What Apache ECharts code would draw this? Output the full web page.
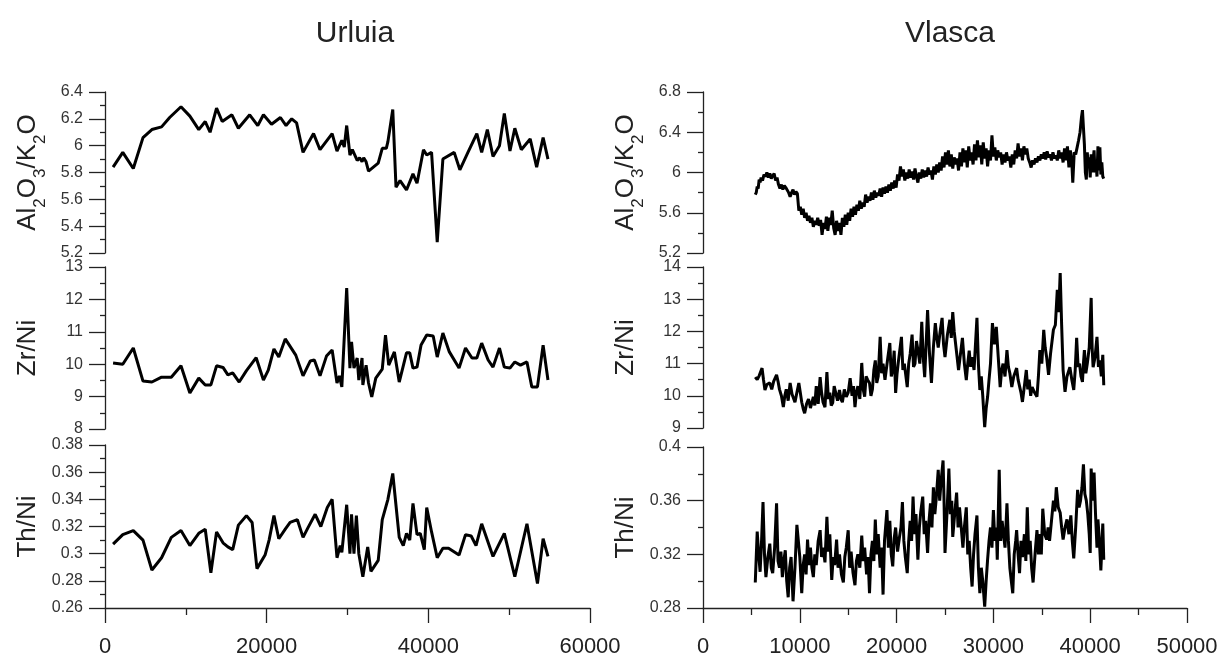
<!DOCTYPE html>
<html><head><meta charset="utf-8">
<script src="https://cdn.jsdelivr.net/npm/echarts@6/dist/echarts.min.js"></script>
<style>html,body{margin:0;padding:0;background:#fff}#c{width:1231px;height:662px}</style>
</head><body><div id="c"></div>
<script>
// ---------- data ----------
const titles = ['Urluia', 'Vlasca'];
const urluiaAlK = [[1000,5.84],[2200,5.95],[3500,5.83],[4700,6.06],[5800,6.12],[7000,6.14],[8000,6.21],[9400,6.29],[10500,6.22],[11600,6.12],[12400,6.18],[13000,6.10],[13800,6.28],[14500,6.18],[15700,6.23],[16500,6.13],[17900,6.23],[18900,6.15],[19600,6.23],[20600,6.16],[21700,6.21],[22400,6.15],[23100,6.20],[23700,6.17],[24500,5.95],[25800,6.09],[26600,5.97],[28100,6.09],[28700,5.96],[29300,6.04],[29600,5.99],[29900,6.15],[30300,5.93],[30600,5.97],[31200,5.89],[31500,5.91],[31800,5.88],[32000,5.91],[32300,5.88],[32600,5.81],[33800,5.87],[34300,5.98],[34800,5.98],[35000,6.03],[35600,6.27],[36000,5.69],[36500,5.74],[37300,5.67],[38100,5.79],[38600,5.72],[39400,5.97],[39800,5.93],[40400,5.95],[41100,5.28],[41800,5.90],[43200,5.95],[43900,5.82],[44900,5.95],[46000,6.09],[46600,5.95],[47300,6.12],[48000,5.92],[48800,6.00],[49400,6.24],[50100,5.96],[50700,6.13],[51500,5.97],[52600,6.05],[53400,5.84],[54200,6.06],[54800,5.90]];
const urluiaZrNi = [[1000,10.04],[2200,10.0],[3500,10.5],[4700,9.48],[5800,9.45],[7000,9.6],[8200,9.6],[9400,9.95],[10500,9.11],[11600,9.57],[12400,9.36],[13100,9.36],[13800,9.95],[14600,9.9],[15200,9.67],[15800,9.73],[16600,9.45],[17500,9.8],[18700,10.2],[19600,9.51],[20200,9.82],[20900,10.47],[21500,10.22],[22300,10.78],[23600,10.28],[24500,9.64],[25400,10.1],[25900,10.13],[26600,9.64],[27400,10.25],[28100,10.44],[28700,9.42],[29000,9.64],[29300,9.3],[29900,12.35],[30300,9.88],[30500,10.69],[30800,9.88],[31200,10.19],[31400,9.51],[31800,10.19],[31900,9.36],[32300,9.97],[32600,9.42],[33000,8.99],[33500,9.57],[34300,9.85],[34700,10.9],[35100,9.97],[35800,10.38],[36400,9.45],[37300,10.35],[37700,10.35],[38100,9.88],[38600,9.91],[39100,10.59],[39800,10.9],[40600,10.87],[41100,10.22],[41800,10.96],[42600,10.38],[43800,9.88],[44600,10.5],[45400,10.19],[46000,10.19],[46600,10.65],[47400,10.13],[48000,9.91],[48800,10.5],[49400,9.91],[50100,9.88],[50700,10.07],[51400,9.97],[52200,10.07],[52800,9.3],[53500,9.3],[54200,10.59],[54800,9.51]];
const urluiaThNi = [[1000,0.307],[2200,0.314],[3500,0.317],[4700,0.310],[5800,0.288],[7000,0.297],[8200,0.312],[9400,0.317],[10500,0.306],[11600,0.315],[12400,0.318],[13100,0.286],[13800,0.316],[14600,0.308],[15200,0.305],[15800,0.303],[16500,0.321],[17500,0.328],[18200,0.323],[18800,0.289],[19800,0.299],[20300,0.310],[20900,0.328],[21500,0.311],[22300,0.318],[22900,0.323],[23800,0.325],[24500,0.312],[25100,0.319],[26000,0.329],[26700,0.320],[27500,0.334],[28100,0.340],[28700,0.297],[29100,0.306],[29300,0.301],[29900,0.336],[30300,0.300],[30500,0.329],[30800,0.300],[31100,0.328],[31400,0.300],[31900,0.283],[32500,0.305],[32900,0.287],[33800,0.295],[34300,0.325],[35000,0.340],[35600,0.359],[36400,0.312],[36900,0.306],[37300,0.315],[37700,0.310],[38100,0.337],[38600,0.314],[39000,0.315],[39500,0.303],[39800,0.334],[40400,0.316],[41100,0.297],[41800,0.304],[42500,0.304],[43800,0.299],[44600,0.314],[45300,0.313],[45900,0.306],[46600,0.322],[48000,0.298],[49400,0.315],[50700,0.283],[52200,0.322],[53500,0.278],[54200,0.311],[54800,0.298]];
const vlascaAlK = [[5400,5.78],[5500,5.80],[5600,5.86],[5700,5.84],[5800,5.93],[5900,5.90],[6000,5.95],[6150,5.92],[6300,5.98],[6450,5.96],[6600,6.00],[6750,5.95],[6900,5.99],[7050,5.94],[7200,5.97],[7350,5.99],[7500,5.92],[7650,5.95],[7800,5.88],[7950,5.84],[8100,5.88],[8250,5.83],[8400,5.87],[8550,5.85],[8700,5.86],[8850,5.80],[9000,5.76],[9150,5.80],[9300,5.83],[9450,5.78],[9600,5.81],[9750,5.79],[9900,5.62],[10050,5.66],[10200,5.58],[10350,5.64],[10500,5.55],[10650,5.60],[10800,5.52],[10950,5.57],[11100,5.50],[11250,5.55],[11400,5.46],[11550,5.52],[11700,5.48],[11850,5.55],[12000,5.47],[12150,5.53],[12300,5.38],[12450,5.50],[12600,5.44],[12750,5.56],[12900,5.42],[13050,5.55],[13200,5.48],[13350,5.62],[13500,5.45],[13650,5.38],[13800,5.52],[13950,5.42],[14100,5.50],[14250,5.38],[14400,5.55],[14550,5.46],[14700,5.58],[14850,5.48],[15000,5.60],[15150,5.52],[15300,5.64],[15450,5.56],[15600,5.66],[15750,5.58],[15900,5.68],[16050,5.62],[16200,5.72],[16350,5.64],[16500,5.70],[16650,5.66],[16800,5.78],[16950,5.70],[17100,5.76],[17250,5.72],[17400,5.80],[17550,5.73],[17700,5.82],[17850,5.75],[18000,5.80],[18150,5.77],[18300,5.84],[18450,5.76],[18600,5.85],[18750,5.79],[18900,5.86],[19050,5.80],[19200,5.88],[19350,5.82],[19500,5.90],[19650,5.84],[19800,5.92],[19950,5.85],[20100,5.98],[20250,5.92],[20400,6.06],[20550,5.96],[20700,6.03],[20850,5.92],[21000,6.00],[21150,5.94],[21300,6.03],[21450,5.95],[21600,6.01],[21750,5.93],[21900,6.04],[22050,5.96],[22200,5.90],[22350,6.00],[22500,5.94],[22650,6.03],[22800,5.95],[22950,6.02],[23100,5.96],[23250,6.05],[23400,5.98],[23550,6.02],[23700,5.93],[23850,6.06],[24000,5.98],[24150,6.08],[24300,6.00],[24450,6.10],[24600,6.02],[24750,6.16],[24900,6.05],[25050,6.20],[25200,6.08],[25350,6.22],[25500,6.06],[25650,6.18],[25800,6.04],[25950,6.15],[26100,6.08],[26250,6.14],[26400,6.02],[26550,6.20],[26700,6.06],[26850,6.24],[27000,6.10],[27150,6.22],[27300,6.05],[27450,6.26],[27600,6.12],[27750,6.20],[27900,6.08],[28050,6.28],[28200,6.12],[28350,6.32],[28500,6.15],[28650,6.27],[28800,6.08],[28950,6.30],[29100,6.14],[29250,6.24],[29400,6.06],[29550,6.22],[29700,6.12],[29850,6.37],[30000,6.16],[30150,6.25],[30300,6.12],[30450,6.22],[30600,6.15],[30750,6.20],[30900,6.08],[31050,6.18],[31200,6.10],[31350,6.20],[31500,6.12],[31650,6.16],[31800,6.05],[31950,6.18],[32100,6.08],[32250,6.22],[32400,6.14],[32550,6.29],[32700,6.16],[32850,6.24],[33000,6.12],[33150,6.26],[33300,6.18],[33450,6.24],[33600,6.14],[33750,6.10],[33900,6.05],[34050,6.12],[34200,6.08],[34350,6.14],[34500,6.10],[34650,6.16],[34800,6.12],[34950,6.18],[35100,6.14],[35250,6.20],[35400,6.13],[35550,6.21],[35700,6.15],[35850,6.18],[36000,6.12],[36150,6.20],[36300,6.14],[36450,6.17],[36600,6.12],[36750,6.22],[36900,6.14],[37050,6.20],[37200,6.10],[37350,6.24],[37500,6.12],[37650,6.26],[37800,6.05],[37950,6.22],[38100,6.10],[38200,5.90],[38350,6.20],[38500,6.18],[38650,6.25],[38800,6.32],[38950,6.40],[39100,6.55],[39200,6.62],[39300,6.45],[39400,6.28],[39500,6.00],[39600,5.93],[39700,6.20],[39800,6.05],[39900,6.15],[40000,5.95],[40100,6.18],[40200,6.00],[40300,6.12],[40400,6.22],[40500,6.00],[40600,6.10],[40700,5.96],[40800,6.26],[40900,6.02],[41000,6.25],[41100,5.98],[41200,6.10],[41300,5.96],[41400,5.94]];
const vlascaZrNi = [[5400,10.58],[5600,10.5],[5800,10.62],[6100,10.86],[6250,10.5],[6400,10.18],[6600,10.35],[6900,10.4],[7100,10.2],[7300,10.45],[7600,10.65],[7750,10.45],[7900,10.2],[8100,10.0],[8300,9.65],[8450,10.0],[8600,10.2],[8800,9.85],[9000,10.4],[9200,10.05],[9500,9.8],[9700,10.1],[9900,10.4],[10050,10.1],[10200,9.8],[10350,9.6],[10500,9.46],[10700,9.75],[10900,9.9],[11100,9.62],[11400,9.97],[11550,9.7],[11700,10.3],[11900,9.75],[12100,10.58],[12250,10.1],[12400,9.8],[12600,9.65],[12800,10.74],[12950,9.9],[13100,10.1],[13250,9.7],[13400,9.78],[13550,10.3],[13700,10.25],[13900,9.85],[14100,10.18],[14250,9.9],[14400,9.8],[14600,10.2],[14800,9.97],[15000,10.1],[15200,10.55],[15400,10.0],[15550,10.3],[15700,9.65],[15850,10.1],[16000,10.3],[16200,9.9],[16400,11.02],[16550,10.2],[16700,9.97],[16850,10.6],[17000,10.5],[17200,10.4],[17350,10.0],[17500,10.2],[17650,10.8],[17800,11.1],[17950,10.4],[18100,10.6],[18300,11.83],[18450,10.7],[18600,11.0],[18800,10.5],[19100,11.2],[19300,11.64],[19450,10.6],[19600,10.8],[19750,11.4],[19900,10.09],[20050,10.7],[20200,11.1],[20500,11.83],[20650,10.8],[20800,11.0],[21100,10.27],[21250,11.0],[21400,11.3],[21600,11.9],[21750,10.9],[21900,11.0],[22050,11.7],[22200,11.42],[22400,11.0],[22600,12.3],[22750,11.2],[22900,10.58],[23050,11.6],[23200,12.66],[23400,11.3],[23600,10.4],[23800,11.5],[24000,12.26],[24150,11.8],[24300,11.5],[24500,12.0],[24700,12.42],[24850,11.6],[25000,11.2],[25250,11.9],[25500,12.36],[25650,11.8],[25800,12.6],[25950,12.0],[26100,11.6],[26250,11.2],[26400,10.8],[26600,11.3],[26800,11.8],[27000,11.0],[27200,10.49],[27350,11.0],[27500,11.4],[27650,10.9],[27800,11.2],[28000,10.8],[28300,12.42],[28450,11.0],[28600,10.18],[28750,10.6],[28900,10.0],[29000,9.5],[29100,9.03],[29250,9.6],[29400,9.97],[29550,10.5],[29700,11.0],[29900,12.26],[30100,11.6],[30300,12.14],[30500,11.2],[30700,10.27],[30850,10.8],[31000,11.0],[31200,10.6],[31400,11.42],[31550,10.9],[31700,10.7],[31900,10.27],[32100,10.6],[32400,10.86],[32550,10.5],[32700,10.3],[32850,10.1],[33000,9.81],[33200,10.3],[33400,10.8],[33550,10.2],[33700,10.5],[33850,10.0],[34000,10.27],[34250,10.1],[34500,9.97],[34650,10.6],[34800,11.42],[35000,11.0],[35200,12.05],[35350,11.5],[35500,11.2],[35700,10.65],[35900,11.3],[36200,12.05],[36400,12.2],[36600,13.29],[36750,12.6],[36900,13.81],[37050,12.2],[37200,10.8],[37400,10.12],[37600,10.6],[37900,10.89],[38100,10.5],[38300,10.18],[38450,10.8],[38600,11.8],[38750,10.9],[38900,11.0],[39050,10.6],[39200,10.43],[39300,11.0],[39400,11.42],[39550,10.7],[39700,11.0],[39900,11.5],[40100,13.04],[40200,11.5],[40300,10.89],[40500,11.2],[40700,11.83],[40850,10.9],[41000,11.1],[41150,10.6],[41300,11.27],[41400,10.33]];
const vlascaThNi = [[5400,0.299],[5500,0.318],[5600,0.337],[5750,0.32],[5900,0.307],[6050,0.33],[6200,0.359],[6350,0.32],[6500,0.303],[6700,0.318],[6900,0.328],[7050,0.31],[7200,0.306],[7400,0.325],[7600,0.358],[7750,0.315],[7900,0.31],[8050,0.322],[8200,0.303],[8350,0.315],[8500,0.323],[8650,0.3],[8800,0.288],[8950,0.31],[9100,0.318],[9300,0.285],[9500,0.31],[9700,0.342],[9850,0.33],[10000,0.318],[10200,0.291],[10350,0.312],[10500,0.32],[10650,0.305],[10800,0.331],[10950,0.312],[11100,0.325],[11250,0.31],[11400,0.303],[11550,0.32],[11700,0.312],[11900,0.33],[12100,0.338],[12250,0.318],[12400,0.325],[12600,0.314],[12800,0.348],[12950,0.322],[13100,0.335],[13300,0.301],[13450,0.318],[13600,0.312],[13800,0.331],[13950,0.31],[14100,0.32],[14300,0.305],[14500,0.299],[14650,0.318],[14800,0.325],[15000,0.338],[15150,0.31],[15300,0.322],[15500,0.306],[15700,0.297],[15850,0.315],[16000,0.32],[16200,0.31],[16400,0.334],[16550,0.315],[16700,0.325],[16900,0.305],[17050,0.318],[17200,0.291],[17350,0.32],[17500,0.33],[17650,0.315],[17800,0.346],[17950,0.32],[18100,0.335],[18300,0.31],[18450,0.325],[18600,0.29],[18750,0.33],[19000,0.353],[19150,0.325],[19300,0.345],[19450,0.32],[19600,0.311],[19750,0.332],[19900,0.34],[20100,0.322],[20300,0.333],[20450,0.34],[20600,0.359],[20750,0.33],[20900,0.318],[21100,0.306],[21250,0.33],[21400,0.345],[21550,0.33],[21700,0.363],[21850,0.335],[22000,0.35],[22200,0.316],[22350,0.34],[22500,0.352],[22700,0.363],[22850,0.335],[23000,0.345],[23200,0.321],[23350,0.345],[23500,0.358],[23650,0.34],[23800,0.37],[23950,0.35],[24100,0.362],[24300,0.383],[24450,0.36],[24600,0.375],[24800,0.39],[24900,0.36],[25000,0.321],[25200,0.35],[25400,0.384],[25550,0.35],[25700,0.36],[25800,0.333],[26000,0.35],[26200,0.366],[26350,0.34],[26500,0.355],[26700,0.338],[26850,0.325],[27000,0.34],[27200,0.355],[27350,0.32],[27500,0.33],[27650,0.31],[27800,0.296],[27950,0.32],[28100,0.335],[28300,0.349],[28450,0.31],[28600,0.291],[28750,0.31],[28900,0.3],[29100,0.281],[29250,0.3],[29400,0.316],[29550,0.33],[29700,0.34],[29850,0.325],[30000,0.353],[30150,0.33],[30300,0.34],[30400,0.316],[30600,0.383],[30750,0.33],[30900,0.345],[31000,0.338],[31200,0.325],[31400,0.358],[31550,0.33],[31700,0.31],[31850,0.3],[32000,0.291],[32150,0.32],[32300,0.33],[32400,0.338],[32550,0.32],[32700,0.306],[32850,0.33],[33000,0.318],[33200,0.335],[33350,0.315],[33500,0.355],[33650,0.32],[33800,0.33],[33950,0.31],[34100,0.299],[34300,0.32],[34500,0.338],[34650,0.32],[34800,0.335],[34950,0.32],[35100,0.354],[35300,0.335],[35500,0.331],[35650,0.34],[35800,0.33],[36000,0.345],[36200,0.36],[36350,0.352],[36500,0.37],[36700,0.355],[36900,0.351],[37050,0.34],[37200,0.331],[37400,0.34],[37600,0.346],[37800,0.335],[38000,0.349],[38150,0.33],[38300,0.317],[38500,0.34],[38700,0.368],[38850,0.355],[39000,0.36],[39150,0.37],[39300,0.387],[39450,0.365],[39600,0.36],[39750,0.35],[39900,0.335],[40000,0.321],[40100,0.384],[40250,0.36],[40400,0.381],[40550,0.35],[40700,0.325],[40800,0.346],[40950,0.33],[41100,0.308],[41200,0.325],[41300,0.343],[41400,0.316]];

// axis ranges: [min, max, interval]
const leftX = [0, 60000, 20000];
const rightX = [0, 50000, 10000];
const leftY = [[5.2, 6.4, 0.2], [8, 13, 1], [0.26, 0.38, 0.02]];
const rightY = [[5.2, 6.8, 0.4], [9, 14, 1], [0.28, 0.4, 0.04]];
const yNames = ['{n|Al}{s|2}{n|O}{s|3}{n|/K}{s|2}{n|O}', '{n|Zr/Ni}', '{n|Th/Ni}'];

// ---------- layout ----------
const FONT = "'Liberation Sans', Arial, sans-serif";
const AX = '#222';
const leftRows = [{top:92,height:161},{top:267,height:162},{top:445,height:163}];
const rightRows = [{top:92,height:161},{top:267,height:161},{top:447,height:161}];
const cols = [{left:105,width:485,rows:leftRows,x:leftX,y:leftY,data:[urluiaAlK,urluiaZrNi,urluiaThNi]},
              {left:703,width:484,rows:rightRows,x:rightX,y:rightY,data:[vlascaAlK,vlascaZrNi,vlascaThNi]}];
const fmt = v => String(parseFloat(Number(v).toFixed(4)));

const grid = [], xAxis = [], yAxis = [], series = [];
cols.forEach((c) => {
  c.rows.forEach((r, j) => {
    const gi = grid.length;
    grid.push({left:c.left, width:c.width, top:r.top, height:r.height, containLabel:false});
    const bottom = j === 2;
    xAxis.push({
      gridIndex: gi, type:'value', min:c.x[0], max:c.x[1], interval:c.x[2], show: bottom,
      axisLine:{show:true, lineStyle:{color:AX, width:1.3}},
      axisTick:{show:true, length:15, lineStyle:{color:AX, width:1.3}},
      minorTick:{show:true, splitNumber:2, length:7, lineStyle:{color:AX, width:1.3}},
      splitLine:{show:false},
      axisLabel:{color:'#222', fontSize:22, fontFamily:FONT, margin:28, formatter:fmt}
    });
    const y = c.y[j];
    yAxis.push({
      gridIndex: gi, type:'value', min:y[0], max:y[1], interval:y[2],
      name: yNames[j], nameLocation:'middle', nameRotate:90, nameGap: 64,
      nameTextStyle:{color:'#222', fontFamily:FONT, rich:{
        n:{fontSize:26, fontFamily:FONT, color:'#222'},
        s:{fontSize:17, fontFamily:FONT, color:'#222', verticalAlign:'bottom', padding:[0,0,-8,0]}
      }},
      axisLine:{show:true, lineStyle:{color:AX, width:1.3}},
      axisTick:{show:true, length:16, lineStyle:{color:AX, width:1.3}},
      minorTick:{show:true, splitNumber:2, length:5, lineStyle:{color:AX, width:1.3}},
      splitLine:{show:false},
      axisLabel:{color:'#333', fontSize:16, fontFamily:FONT, margin:22, formatter:fmt, showMinLabel:true, showMaxLabel:true}
    });
    series.push({type:'line', xAxisIndex:gi, yAxisIndex:gi, data:c.data[j], showSymbol:false, symbol:'none',
      lineStyle:{color:'#000', width:3}, clip:false});
  });
});

const chart = echarts.init(document.getElementById('c'), null, {renderer:'canvas'});
chart.setOption({
  animation:false,
  backgroundColor:'#fff',
  title:[
    {text:titles[0], left:350, top:14, textAlign:'center', textStyle:{fontSize:30, fontWeight:'normal', color:'#222', fontFamily:FONT}},
    {text:titles[1], left:945, top:14, textAlign:'center', textStyle:{fontSize:30, fontWeight:'normal', color:'#222', fontFamily:FONT}}
  ],
  grid, xAxis, yAxis, series
});
</script></body></html>
